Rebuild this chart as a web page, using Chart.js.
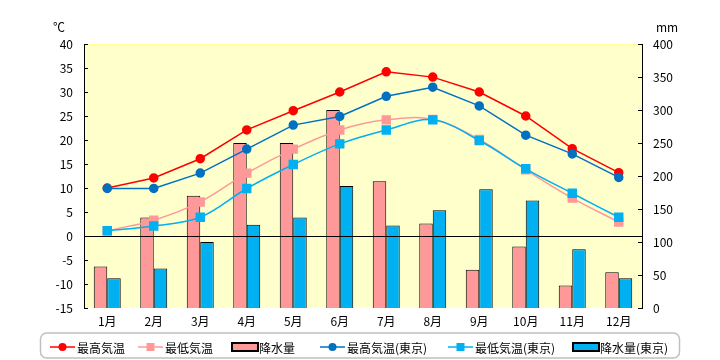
<!DOCTYPE html>
<html>
<head>
<meta charset="utf-8">
<script src="https://cdn.jsdelivr.net/npm/chart.js@4"></script>
<style>
  html, body { margin: 0; padding: 0; background: #fff; }
</style>
</head>
<body>
<canvas id="myChart" width="720" height="360"></canvas>
<script>
const months = ["1月", "2月", "3月", "4月", "5月", "6月", "7月", "8月", "9月", "10月", "11月", "12月"];

// temperatures (°C, left axis)
const highTemp = [10, 12.1, 16.1, 22.1, 26.1, 30, 34.2, 33.1, 30, 25, 18.2, 13.2];
const lowTemp = [1.1, 3.3, 7.1, 13.1, 18.1, 22.1, 24.2, 24.3, 20.1, 13.8, 7.9, 2.9];
const tokyoHigh = [9.9, 9.9, 13.1, 18.1, 23.1, 24.9, 29.1, 31, 27.1, 21, 17.1, 12.2];
const tokyoLow = [1.1, 2.1, 3.9, 9.9, 14.9, 19.2, 22.1, 24.2, 19.9, 14, 8.9, 3.9];

// precipitation (mm, right axis)
const precip = [63, 137, 170, 250, 250, 300, 192, 128, 58, 93, 34, 54];
const tokyoPrecip = [45, 60, 100, 126, 137, 185, 125, 148, 180, 163, 89, 45];

// axis ticks
const tempTicks = [-15, -10, -5, 0, 5, 10, 15, 20, 25, 30, 35, 40];
const mmTicks = [0, 50, 100, 150, 200, 250, 300, 350, 400];

const FONT = '"Noto Sans CJK JP", "Liberation Sans", sans-serif';
const legendX = [50, 138, 232, 320, 448, 573];

const chartDeco = {
  id: "chartDeco",
  beforeDraw(chart) {
    const ctx = chart.ctx;
    const a = chart.chartArea;
    ctx.save();
    ctx.fillStyle = "#fff";
    ctx.fillRect(0, 0, chart.width, chart.height);
    ctx.fillStyle = "#FFFFCC";
    ctx.fillRect(a.left, a.top, a.right - a.left, a.bottom - a.top);
    ctx.strokeStyle = "#FFFF99";
    ctx.lineWidth = 1;
    ctx.beginPath();
    ctx.moveTo(a.left, a.top + 0.5);
    ctx.lineTo(a.right, a.top + 0.5);
    ctx.stroke();
    ctx.restore();
  },
  afterDatasetsDraw(chart) {
    // zero line
    const ctx = chart.ctx;
    const a = chart.chartArea;
    const y0 = Math.round(chart.scales.y.getPixelForValue(0)) + 0.5;
    ctx.save();
    ctx.strokeStyle = "#000";
    ctx.lineWidth = 1;
    ctx.beginPath();
    ctx.moveTo(a.left, y0);
    ctx.lineTo(a.right, y0);
    ctx.stroke();
    ctx.restore();
  },
  afterDraw(chart) {
    const ctx = chart.ctx;
    const a = chart.chartArea;
    ctx.save();
    // inward tick marks
    ctx.strokeStyle = "#000";
    ctx.lineWidth = 1;
    ctx.beginPath();
    tempTicks.forEach(v => {
      const y = Math.round(chart.scales.y.getPixelForValue(v)) + 0.5;
      ctx.moveTo(a.left, y);
      ctx.lineTo(a.left + 4, y);
    });
    mmTicks.forEach(v => {
      const y = Math.round(chart.scales.y2.getPixelForValue(v)) + 0.5;
      ctx.moveTo(a.right, y);
      ctx.lineTo(a.right - 4, y);
    });
    ctx.stroke();

    // unit labels
    ctx.fillStyle = "#000";
    ctx.font = "12px " + FONT;
    ctx.textBaseline = "middle";
    ctx.textAlign = "left";
    ctx.fillText("℃", 53, 27);
    ctx.fillText("mm", 656, 27);

    // legend
    ctx.strokeStyle = "#C0C0C0";
    ctx.lineWidth = 1.5;
    ctx.beginPath();
    ctx.roundRect(40.5, 333, 639, 25, 6);
    ctx.stroke();

    const ly = 347;
    chart.data.datasets.forEach((ds, i) => {
      const sx = legendX[i];
      if (ds.type === "bar") {
        ctx.fillStyle = ds.backgroundColor;
        ctx.fillRect(sx, ly - 4, 26, 8);
        ctx.strokeStyle = "#000";
        ctx.lineWidth = 2;
        ctx.strokeRect(sx, ly - 4, 26, 8);
      } else {
        ctx.strokeStyle = ds.borderColor;
        ctx.lineWidth = 1.5;
        ctx.beginPath();
        ctx.moveTo(sx, ly);
        ctx.lineTo(sx + 25, ly);
        ctx.stroke();
        ctx.fillStyle = ds.pointBackgroundColor;
        if (ds.pointStyle === "rect") {
          ctx.fillRect(sx + 8.5, ly - 4, 8, 8);
        } else {
          ctx.beginPath();
          ctx.arc(sx + 12.5, ly, 4, 0, Math.PI * 2);
          ctx.fill();
        }
      }
      ctx.fillStyle = "#000";
      ctx.font = "12px " + FONT;
      ctx.textAlign = "left";
      ctx.fillText(ds.label, sx + 27, ly + 1);
    });
    ctx.restore();
  }
};

const ctx = document.getElementById("myChart").getContext("2d");

const chart = new Chart(ctx, {
  data: {
    labels: months,
    datasets: [
      {
        type: "line", label: "最高気温", data: highTemp, yAxisID: "y", order: 4,
        borderColor: "#FF0000", pointBackgroundColor: "#FF0000", pointBorderColor: "#FF0000",
        borderWidth: 1.5, pointStyle: "circle", pointRadius: 4, tension: 0
      },
      {
        type: "line", label: "最低気温", data: lowTemp, yAxisID: "y", order: 3,
        borderColor: "#FF9999", pointBackgroundColor: "#FF9999", pointBorderColor: "#FF9999",
        borderWidth: 1.5, pointStyle: "rect", pointRadius: 5.6, tension: 0.35
      },
      {
        type: "bar", label: "降水量", data: precip, yAxisID: "y2", order: 9,
        backgroundColor: "#FF9999", borderColor: "#000", borderWidth: 1,
        barPercentage: 1, categoryPercentage: 0.58
      },
      {
        type: "line", label: "最高気温(東京)", data: tokyoHigh, yAxisID: "y", order: 2,
        borderColor: "#0070C0", pointBackgroundColor: "#0070C0", pointBorderColor: "#0070C0",
        borderWidth: 1.5, pointStyle: "circle", pointRadius: 4, tension: 0
      },
      {
        type: "line", label: "最低気温(東京)", data: tokyoLow, yAxisID: "y", order: 1,
        borderColor: "#00B0F0", pointBackgroundColor: "#00B0F0", pointBorderColor: "#00B0F0",
        borderWidth: 1.5, pointStyle: "rect", pointRadius: 5.6, tension: 0.35
      },
      {
        type: "bar", label: "降水量(東京)", data: tokyoPrecip, yAxisID: "y2", order: 10,
        backgroundColor: "#00B0F0", borderColor: "#000", borderWidth: 1,
        barPercentage: 1, categoryPercentage: 0.58
      }
    ]
  },
  options: {
    responsive: false,
    animation: false,
    devicePixelRatio: 1,
    layout: { padding: { top: 44, left: 0, right: 0, bottom: 0 } },
    plugins: {
      legend: { display: false },
      tooltip: { enabled: false }
    },
    scales: {
      x: {
        grid: { display: false, drawTicks: false },
        border: { display: false },
        ticks: { color: "#000", font: { family: FONT, size: 12 }, padding: 6, maxRotation: 0 },
        afterFit(scale) { scale.height = 52; }
      },
      y: {
        position: "left",
        min: -15, max: 40,
        grid: { display: false, drawTicks: false },
        border: { display: true, color: "#000", width: 1 },
        ticks: { stepSize: 5, color: "#000", font: { family: FONT, size: 12 }, padding: 11 },
        afterFit(scale) { scale.width = 84; }
      },
      y2: {
        position: "right",
        min: 0, max: 400,
        grid: { display: false, drawTicks: false },
        border: { display: true, color: "#000", width: 1 },
        ticks: { stepSize: 50, color: "#000", font: { family: FONT, size: 12 }, padding: 11 },
        afterFit(scale) { scale.width = 78; }
      }
    }
  },
  plugins: [chartDeco]
});
</script>
</body>
</html>
